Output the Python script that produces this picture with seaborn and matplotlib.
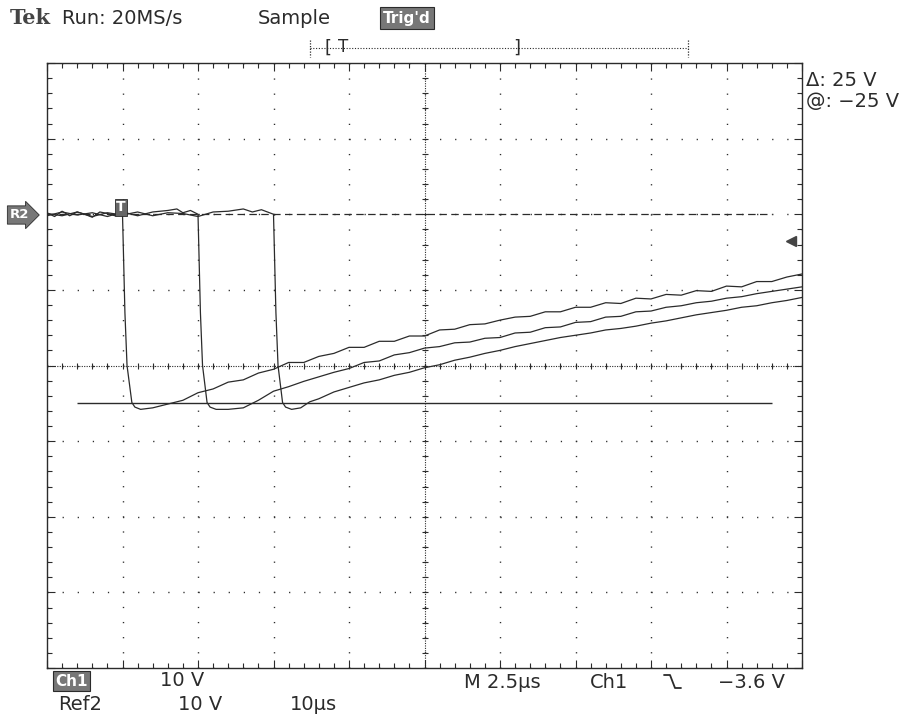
import numpy as np
import pandas as pd
import matplotlib
matplotlib.use("Agg")
import matplotlib.pyplot as plt
from matplotlib.ticker import MultipleLocator
import seaborn as sns

sns.set_theme(style="white")
plt.rcParams['font.family'] = ['DejaVu Sans']

# Three Ch1 captures (time in us, level in V), 2.5 us/div, 10 V/div
time_1 = [-2.5, -2.25, -2.0, -1.75, -1.5, -1.25, -1.0, -0.75, -0.5, -0.25, 0.0,
          0.08, 0.15, 0.31, 0.41, 0.6, 1.0, 1.5, 2.0, 2.5, 3.0, 3.5, 4.0, 4.5, 5.0,
          5.5, 6.0, 6.5, 7.0, 7.5, 8.0, 8.5, 9.0, 9.5, 10.0, 10.5, 11.0, 11.5, 12.0,
          12.5, 13.0, 13.5, 14.0, 14.5, 15.0, 15.5, 16.0, 16.5, 17.0, 17.5, 18.0,
          18.5, 19.0, 19.5, 20.0, 20.5, 21.0, 21.5, 22.0, 22.5]
volts_1 = [0.2, -0.3, 0.4, -0.2, 0.3, 0.0, -0.4, 0.3, 0.1, -0.2, 0.0,
           -13.0, -20.0, -24.9, -25.5, -25.8, -25.6, -25.1, -24.6, -23.6, -23.1, -22.2, -21.9, -21.0, -20.5,
           -19.6, -19.6, -18.8, -18.4, -17.6, -17.6, -16.8, -16.8, -16.1, -16.1, -15.3, -15.2, -14.6, -14.5,
           -14.0, -13.6, -13.5, -12.9, -12.9, -12.3, -12.3, -11.7, -11.8, -11.1, -11.2, -10.6,
           -10.7, -10.1, -10.2, -9.5, -9.6, -8.9, -8.9, -8.3, -7.9]

time_2 = [-2.5, -2.0, -1.5, -1.0, -0.5, 0.0, 0.5, 1.0, 1.5, 1.8, 2.0, 2.25, 2.5,
          2.58, 2.65, 2.8, 2.9, 3.1, 3.5, 4.0, 4.5, 5.0, 5.5, 6.0, 6.5, 7.0, 7.5,
          8.0, 8.5, 9.0, 9.5, 10.0, 10.5, 11.0, 11.5, 12.0, 12.5, 13.0, 13.5, 14.0,
          14.5, 15.0, 15.5, 16.0, 16.5, 17.0, 17.5, 18.0, 18.5, 19.0, 19.5, 20.0,
          20.5, 21.0, 21.5, 22.0, 22.5]
volts_2 = [-0.2, 0.3, -0.1, 0.2, -0.3, 0.3, -0.2, 0.3, 0.5, 0.7, 0.2, 0.5, 0.0,
           -13.0, -20.0, -24.9, -25.5, -25.8, -25.8, -25.6, -24.6, -23.4, -22.8, -22.1, -21.5, -20.9, -20.4,
           -19.6, -19.4, -18.6, -18.3, -17.7, -17.5, -17.0, -16.9, -16.4, -16.3, -15.7, -15.6, -15.0,
           -14.9, -14.3, -14.2, -13.6, -13.5, -12.9, -12.8, -12.3, -12.1, -11.7, -11.5, -11.1,
           -10.9, -10.5, -10.2, -9.9, -9.6]

time_3 = [-2.5, -2.0, -1.5, -1.0, -0.5, 0.0, 0.5, 1.0, 1.5, 2.0, 2.5, 3.0, 3.5,
          4.0, 4.3, 4.6, 5.0, 5.08, 5.15, 5.3, 5.4, 5.6, 5.9, 6.2, 6.5, 7.0, 7.5,
          8.0, 8.5, 9.0, 9.5, 10.0, 10.5, 11.0, 11.5, 12.0, 12.5, 13.0, 13.5, 14.0,
          14.5, 15.0, 15.5, 16.0, 16.5, 17.0, 17.5, 18.0, 18.5, 19.0, 19.5, 20.0,
          20.5, 21.0, 21.5, 22.0, 22.5]
volts_3 = [0.1, -0.2, 0.3, -0.3, 0.2, -0.1, 0.3, -0.2, 0.2, 0.1, -0.3, 0.3, 0.4,
           0.7, 0.3, 0.6, 0.0, -13.0, -20.0, -24.9, -25.5, -25.8, -25.6, -24.8, -24.4, -23.5, -22.9,
           -22.3, -21.9, -21.3, -20.9, -20.3, -19.9, -19.3, -18.9, -18.4, -18.0, -17.5, -17.1, -16.7,
           -16.3, -16.0, -15.7, -15.3, -15.1, -14.8, -14.4, -14.1, -13.7, -13.3, -13.0, -12.7,
           -12.3, -12.1, -11.7, -11.4, -11.0]

cursor_levels = [0.0, -25.0]
trigger_level = -3.6
trigger_time = 0.0

frames = []
for name, t, v in [("cap1", time_1, volts_1), ("cap2", time_2, volts_2), ("cap3", time_3, volts_3)]:
    frames.append(pd.DataFrame({"time": t, "volts": v, "capture": name}))
traces = pd.concat(frames, ignore_index=True)

ink = '#2b2b2b'
fig = plt.figure(figsize=(9.14, 7.18), dpi=100)
fig.patch.set_facecolor('white')
ax = fig.add_axes([47/914, 1-668/718, 755/914, 605/718])

# graticule
ax.set_xlim(-2.5, 22.5)
ax.set_ylim(-60, 20)
ax.xaxis.set_major_locator(MultipleLocator(2.5))
ax.yaxis.set_major_locator(MultipleLocator(10))
ax.xaxis.set_minor_locator(MultipleLocator(0.5))
ax.yaxis.set_minor_locator(MultipleLocator(2))
ax.grid(True, which='major', color=ink, linestyle=(0, (0.9, 9.97)), linewidth=1.0)
ax.tick_params(which='both', direction='in', top=True, right=True, bottom=True, left=True,
               labelbottom=False, labelleft=False, color=ink, width=0.8)
ax.tick_params(which='major', length=6)
ax.tick_params(which='minor', length=3.5)
for s in ax.spines.values():
    s.set_color(ink)
    s.set_linewidth(1.0)

# centre crosshair with fine ticks
ax.axhline(-20, color=ink, linestyle=(0, (1, 1.2)), linewidth=0.8)
ax.axvline(10, color=ink, linestyle=(0, (1, 1.2)), linewidth=0.8)
ax.plot(np.arange(-2.5, 22.51, 0.5), np.full(51, -20.0), linestyle='none', marker='|',
        markersize=5, color=ink, markeredgewidth=0.8)
ax.plot(np.full(41, 10.0), np.arange(-60, 20.1, 2), linestyle='none', marker='_',
        markersize=5, color=ink, markeredgewidth=0.8)

# cursors
ax.hlines(cursor_levels[0], -2.5, 21.5, color=ink, linestyle=(0, (6, 3.5)), linewidth=0.9)
ax.hlines(cursor_levels[1], -1.5, 21.5, color=ink, linestyle='-', linewidth=1.0)

sns.lineplot(data=traces, x="time", y="volts", hue="capture", units="capture",
             estimator=None, sort=False, palette=[ink, ink, ink], linewidth=0.9,
             legend=False, ax=ax)
ax.set_xlabel('')
ax.set_ylabel('')

# trigger level marker at right edge
ax.plot([22.15], [trigger_level], marker='<', markersize=7, color='#444', clip_on=False)
# trigger position marker
ax.text(trigger_time - 0.05, 0.9, 'T', fontsize=10, color='white', ha='center', va='center',
        fontweight='bold', bbox=dict(boxstyle='square,pad=0.12', fc='#666', ec=ink, lw=0.6))

# overlay in pixel coordinates for the readouts
ov = fig.add_axes([0, 0, 1, 1])
ov.set_xlim(0, 914)
ov.set_ylim(718, 0)
ov.axis('off')
ov.patch.set_alpha(0)

fs = 14
ov.text(10, 18, 'Tek', fontsize=15, family='DejaVu Serif', fontweight='bold', color='#444', va='center')
ov.text(62, 18, 'Run: 20MS/s', fontsize=fs, color=ink, va='center')
ov.text(258, 18, 'Sample', fontsize=fs, color=ink, va='center')
ov.text(383, 18, "Trig'd", fontsize=11, color='white', fontweight='bold', va='center',
        bbox=dict(boxstyle='square,pad=0.2', fc='#777', ec=ink, lw=0.8))

# record / trigger position bar
ov.plot([310, 688], [48, 48], color=ink, linestyle=(0, (1, 1.5)), linewidth=0.8)
ov.plot([310, 310], [40, 57], color=ink, linestyle=(0, (1, 1.2)), linewidth=0.9)
ov.plot([688, 688], [40, 57], color=ink, linestyle=(0, (1, 1.2)), linewidth=0.9)
ov.text(325, 48, '[', fontsize=13, color=ink, va='center')
ov.text(338, 47, 'T', fontsize=12, color=ink, va='center')
ov.text(513, 48, ']', fontsize=13, color=ink, va='center')

ov.text(806, 80, '\u0394: 25 V', fontsize=fs, color=ink, va='center')
ov.text(806, 101, '@: \u221225 V', fontsize=fs, color=ink, va='center')

ov.text(10, 215, 'R2', fontsize=9.5, color='white', fontweight='bold', va='center',
        bbox=dict(boxstyle='rarrow,pad=0.2', fc='#777', ec=ink, lw=0.6))

ov.text(55, 681, 'Ch1', fontsize=11, color='white', fontweight='bold', va='center',
        bbox=dict(boxstyle='square,pad=0.15', fc='#777', ec=ink, lw=0.8))
ov.text(160, 681, '10 V', fontsize=fs, color=ink, va='center')
ov.text(58, 704, 'Ref2', fontsize=fs, color=ink, va='center')
ov.text(178, 704, '10 V', fontsize=fs, color=ink, va='center')
ov.text(290, 704, '10\u00b5s', fontsize=fs, color=ink, va='center')
ov.text(464, 682, 'M 2.5\u00b5s', fontsize=fs, color=ink, va='center')
ov.text(590, 682, 'Ch1', fontsize=fs, color=ink, va='center')
ov.plot([664, 670, 675, 681], [675, 675, 688, 688], color=ink, linewidth=1.3)
ov.text(718, 682, '\u22123.6 V', fontsize=fs, color=ink, va='center')

fig.savefig('out.png', dpi=100)
